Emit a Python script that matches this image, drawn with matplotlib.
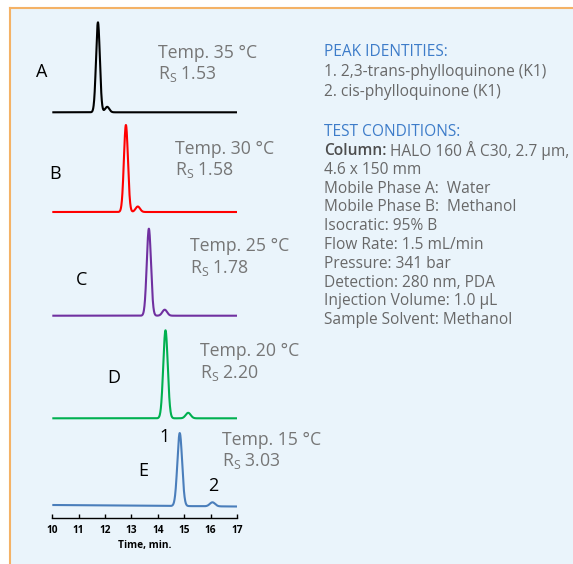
import numpy as np
import matplotlib.pyplot as plt
from matplotlib.lines import Line2D
from matplotlib.patches import Rectangle

plt.rcParams['font.family'] = ['Open Sans', 'DejaVu Sans']

# peak table (time in min, height in px-like units)
traces = ["A", "B", "C", "D", "E"]
temps = ["35", "30", "25", "20", "15"]
rs_values = ["1.53", "1.58", "1.78", "2.20", "3.03"]
peak1_time = [11.73, 12.79, 13.66, 14.29, 14.83]
peak1_height = [90, 87, 87, 88, 73]
peak1_width = [0.072, 0.076, 0.08, 0.085, 0.09]
peak2_time = [12.08, 13.24, 14.26, 15.15, 16.07]
peak2_height = [5.5, 5.5, 6, 5.5, 4]
peak2_width = [0.08, 0.085, 0.09, 0.095, 0.1]
drift = [0, 0, 0, 0, -1.5]
colors = ["black", "#ff0000", "#7030a0", "#00b050", "#4a7ebb"]

peak_ids = ["1. 2,3-trans-phylloquinone (K1)", "2. cis-phylloquinone (K1)"]
conditions = [
    ("Column:", "HALO 160 Å C30, 2.7 µm,"),
    ("", "4.6 x 150 mm"),
    ("", "Mobile Phase A:  Water"),
    ("", "Mobile Phase B:  Methanol"),
    ("", "Isocratic: 95% B"),
    ("", "Flow Rate: 1.5 mL/min"),
    ("", "Pressure: 341 bar"),
    ("", "Detection: 280 nm, PDA"),
    ("", "Injection Volume: 1.0 µL"),
    ("", "Sample Solvent: Methanol"),
]

W, H = 573, 564
fig = plt.figure(figsize=(W / 100, H / 100), dpi=100)


def px(x, y):
    return x / W, 1 - y / H


# light blue panel with orange edge on left and top
fig.patches.append(Rectangle(px(9.5, H), 1, 1 - 7.5 / H, transform=fig.transFigure,
                             facecolor="#eaf4fb", edgecolor="none", zorder=-5))
fig.lines.append(Line2D([9.5 / W, 9.5 / W], [0, 1 - 7.5 / H], transform=fig.transFigure,
                        color="#f4b266", lw=1.5, zorder=-4))
fig.lines.append(Line2D([9.5 / W, 1], [1 - 7.5 / H, 1 - 7.5 / H], transform=fig.transFigure,
                        color="#f4b266", lw=1.5, zorder=-4))

x0, x1 = 52.3, 237
ybot, ytop = 518, 10
ax = fig.add_axes([x0 / W, 1 - ybot / H, (x1 - x0) / W, (ybot - ytop) / H])
ax.patch.set_alpha(0)
ax.set_xlim(10, 17)
ax.set_ylim(0, ybot - ytop)

baselines = [405.7, 306, 202.3, 99.7, 13]
t = np.linspace(10, 17, 1400)
for i in range(len(traces)):
    y = baselines[i] + drift[i] * (t - 10) / 7
    y = y + peak1_height[i] * np.exp(-0.5 * ((t - peak1_time[i]) / peak1_width[i]) ** 2)
    y = y + peak2_height[i] * np.exp(-0.5 * ((t - peak2_time[i]) / peak2_width[i]) ** 2)
    ax.plot(t, y, color=colors[i], lw=1.5, solid_capstyle="butt")

for s in ["left", "right", "top"]:
    ax.spines[s].set_visible(False)
ax.spines["bottom"].set_linewidth(1.0)
ax.set_yticks([])
ax.set_xticks(range(10, 18))
ax.tick_params(axis="x", direction="in", length=3, width=1, labelsize=7.3, pad=5)
for lab in ax.get_xticklabels():
    lab.set_fontweight("bold")
ax.set_xlabel("Time, min.", fontsize=7.3, fontweight="bold", labelpad=3)

# trace letters
letter_pos = [(42, 72), (55, 174), (82, 280), (114, 378), (143, 471)]
for i in range(len(traces)):
    fig.text(*px(*letter_pos[i]), traces[i], fontsize=13, ha="center", va="center",
             color="black")

# temperature / resolution labels
temp_pos = [(158, 53, 74), (175, 149, 170), (190, 246, 268), (200, 351, 373), (222, 440, 461)]
for i in range(len(traces)):
    x, ya, yb = temp_pos[i]
    fig.text(*px(x, ya), "Temp. " + temps[i] + " °C", fontsize=12.7, color="#767676",
             ha="left", va="center")
    fig.text(*px(x, yb), r"R$_\mathregular{S}$ " + rs_values[i], fontsize=12.7,
             color="#767676", ha="left", va="center")

fig.text(*px(165, 437), "1", fontsize=13, ha="center", va="center")
fig.text(*px(213, 486), "2", fontsize=13, ha="center", va="center")

# right side text block
tx = 324
blue = "#3d7cc9"
grey = "#686868"
fs = 11.2
fig.text(*px(tx, 52), "PEAK IDENTITIES:", fontsize=fs, color=blue, va="center")
fig.text(*px(tx, 72.5), peak_ids[0], fontsize=fs, color=grey, va="center")
fig.text(*px(tx, 91.5), peak_ids[1], fontsize=fs, color=grey, va="center")
fig.text(*px(tx, 131.5), "TEST CONDITIONS:", fontsize=fs, color=blue, va="center")
for k, (head, rest) in enumerate(conditions):
    yy = 151 + k * 18.8
    if head:
        h = fig.text(*px(tx, yy), head, fontsize=fs, color="#4d4d4d", fontweight="semibold",
                     va="center")
        fig.add_artist(plt.Annotation(" " + rest, xy=(1, 0.5), xycoords=h, fontsize=fs,
                                      color=grey, va="center", ha="left"))
    else:
        fig.text(*px(tx, yy), rest, fontsize=fs, color=grey, va="center")

fig.savefig("out.png", dpi=100)
